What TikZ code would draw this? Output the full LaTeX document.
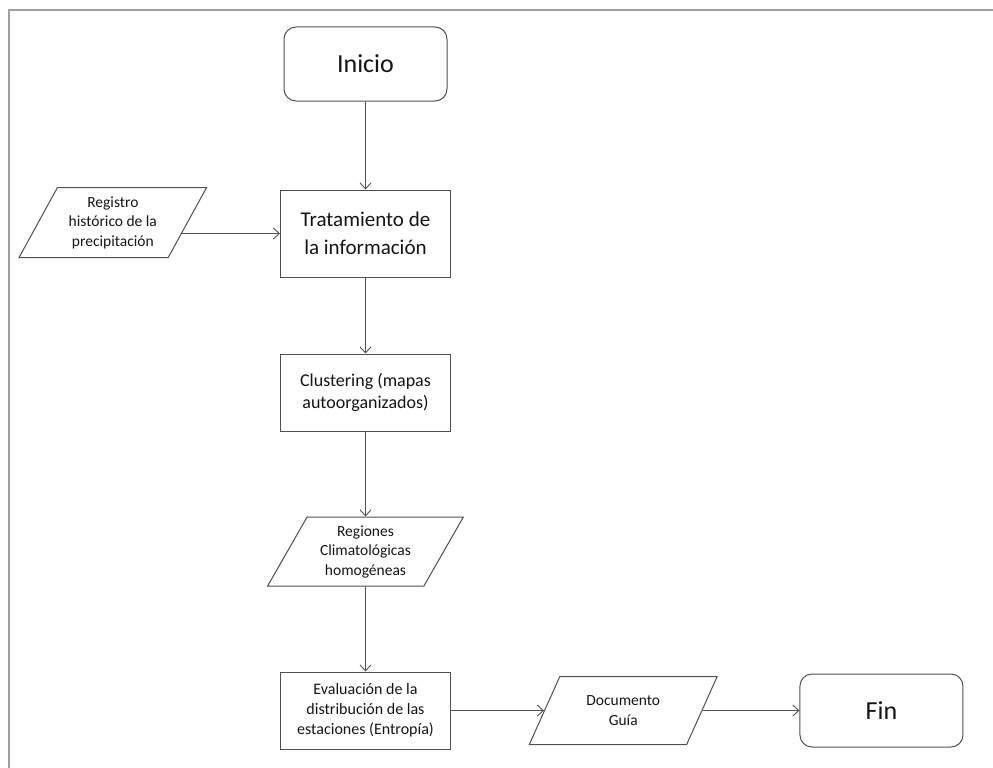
\documentclass[tikz,border=0pt]{standalone}
\usepackage{fontspec}
\setmainfont{Carlito}
\usepackage{tikz}
\usetikzlibrary{shapes.geometric, arrows.meta, positioning}
\definecolor{mygray}{RGB}{80,80,80}
\definecolor{myframe}{RGB}{160,160,160}
\definecolor{mytext}{RGB}{20,20,20}
\tikzset{
  startstop/.style={rectangle, draw=mygray, rounded corners=12pt,
    minimum width=163pt, minimum height=74pt, text=mytext,
    font=\fontsize{26}{30}\selectfont, line width=1pt},
  process/.style={rectangle, draw=mygray, align=center,
    minimum width=170pt, minimum height=77pt, inner sep=2pt,
    text=mytext, line width=1pt},
  io/.style={trapezium, trapezium left angle=60, trapezium right angle=120,
    trapezium stretches=true, draw=mygray, align=center,
    minimum width=188pt, minimum height=69pt, inner sep=1pt,
    text=mytext, font=\fontsize{15.5}{19.5}\selectfont, line width=1pt},
  arrow/.style={-{Straight Barb[length=6pt, width=11pt]}, line width=0.9pt, color=mygray},
  frame/.style={line width=1.2pt, color=myframe}
}

\begin{document}
\begin{tikzpicture}[x=1pt, y=-1pt, node distance=85pt and 93pt]
  \useasboundingbox (0,0) rectangle (993,768);

  % Marco
  \coordinate (tl) at (9,10);
  \coordinate (tr) at (993,10);
  \coordinate (bl) at (9,768);
  \draw[frame] (bl) -- (tl) -- (tr);

  % Flujo principal
  \node[startstop] (inicio) at (365.5,64) {Inicio};
  \node[process, below=88pt of inicio, minimum height=87pt,
    font=\fontsize{21}{28}\selectfont] (trat) {Tratamiento de\\la información};
  \node[process, below=76pt of trat,
    font=\fontsize{18}{22.5}\selectfont] (clust) {Clustering (mapas\\autoorganizados)};
  \node[io, below=of clust, minimum width=196pt] (regiones) {Regiones\\Climatológicas\\homogéneas};
  \node[process, below=of regiones,
    font=\fontsize{16}{20}\selectfont] (eval) {Evaluación de la\\distribución de las\\estaciones (Entropía)};

  % Entradas y salidas
  \node[io, left=92pt of trat, yshift=11pt, minimum height=70pt] (registro) {Registro\\histórico de la\\precipitación};
  \node[io, right=of eval, minimum height=68pt] (doc) {Documento\\Guía};
  \node[startstop, right=97pt of doc, minimum height=73pt] (fin) {Fin};

  % Flechas
  \draw[arrow] (inicio) -- (trat);
  \draw[arrow] ([xshift=-6pt]registro.east |- trat.west) -- (trat.west);
  \draw[arrow] (trat) -- (clust);
  \draw[arrow] (clust) -- (regiones);
  \draw[arrow] (regiones) -- (eval);
  \draw[arrow] (eval) -- (doc);
  \draw[arrow] (doc) -- (fin);
\end{tikzpicture}
\end{document}
